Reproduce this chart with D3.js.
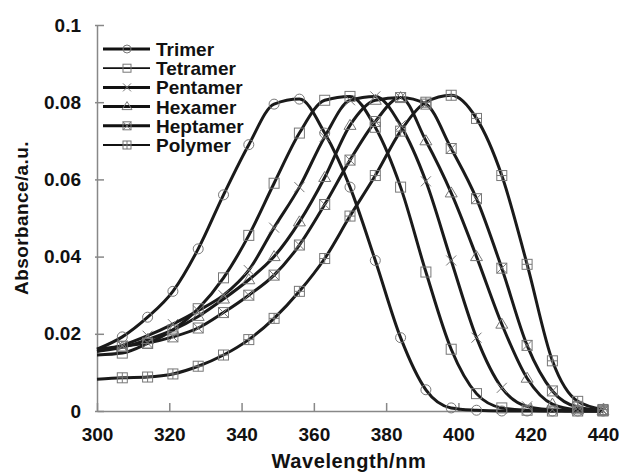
<!DOCTYPE html>
<html>
<head>
<meta charset="utf-8">
<script src="https://cdn.jsdelivr.net/npm/d3@7"></script>
<style>
  body { margin: 0; background: #fff; }
  text { font-family: "Liberation Sans", Arial, sans-serif; font-weight: bold; fill: #111; }
</style>
</head>
<body>
<div id="chart"></div>
<script>
// wavelength grid (nm)
var wavelength = [300, 307, 314, 321, 328, 335, 342, 349, 356, 363, 370, 377, 384, 391, 398, 405, 412, 419, 426, 433, 440];

var trimer   = [0.0160, 0.0192, 0.0243, 0.0310, 0.0420, 0.0560, 0.0690, 0.0795, 0.0808, 0.0720, 0.0580, 0.0390, 0.0190, 0.0055, 0.0008, 0.0002, 0, 0, 0, 0, 0];
var tetramer = [0.0145, 0.0150, 0.0175, 0.0210, 0.0265, 0.0345, 0.0455, 0.0590, 0.0720, 0.0805, 0.0815, 0.0735, 0.0580, 0.0360, 0.0160, 0.0045, 0.0008, 0.0002, 0, 0, 0];
var pentamer = [0.0155, 0.0170, 0.0195, 0.0225, 0.0260, 0.0300, 0.0365, 0.0475, 0.0580, 0.0710, 0.0805, 0.0815, 0.0740, 0.0595, 0.0390, 0.0190, 0.0060, 0.0012, 0.0003, 0, 0];
var hexamer  = [0.0155, 0.0165, 0.0185, 0.0210, 0.0245, 0.0290, 0.0340, 0.0400, 0.0490, 0.0605, 0.0740, 0.0805, 0.0812, 0.0700, 0.0565, 0.0400, 0.0225, 0.0085, 0.0018, 0.0003, 0];
var heptamer = [0.0160, 0.0168, 0.0176, 0.0192, 0.0215, 0.0255, 0.0300, 0.0352, 0.0430, 0.0535, 0.0650, 0.0750, 0.0812, 0.0795, 0.0680, 0.0550, 0.0370, 0.0170, 0.0052, 0.0010, 0.0002];
var polymer  = [0.0082, 0.0086, 0.0088, 0.0096, 0.0116, 0.0145, 0.0185, 0.0240, 0.0310, 0.0395, 0.0505, 0.0610, 0.0725, 0.0800, 0.0818, 0.0758, 0.0610, 0.0380, 0.0130, 0.0025, 0.0004];

var seriesNames = ["Trimer", "Tetramer", "Pentamer", "Hexamer", "Heptamer", "Polymer"];
var seriesValues = [trimer, tetramer, pentamer, hexamer, heptamer, polymer];
var seriesMarkers = ["circle", "square", "cross", "triangle", "squareX", "squarePlus"];

var xTicks = [300, 320, 340, 360, 380, 400, 420, 440];
var yTicks = [0, 0.02, 0.04, 0.06, 0.08, 0.1];

var width = 623, height = 472;
var margin = {top: 25, right: 20, bottom: 61, left: 97};

var svg = d3.select("#chart").append("svg")
    .attr("width", width)
    .attr("height", height);

var x = d3.scaleLinear().domain([300, 440]).range([margin.left, width - margin.right]);
var y = d3.scaleLinear().domain([0, 0.1]).range([height - margin.bottom, margin.top]);

// axes
var xAxis = svg.append("g")
    .attr("transform", "translate(0," + y(0) + ")")
    .call(d3.axisBottom(x).tickValues(xTicks).tickSizeInner(-8).tickSizeOuter(0).tickFormat(d3.format("d")));
var yAxis = svg.append("g")
    .attr("transform", "translate(" + x(300) + ",0)")
    .call(d3.axisLeft(y).tickValues(yTicks).tickSizeInner(-7).tickSizeOuter(0)
      .tickFormat(function(d) { return d === 0 ? "0" : String(+d.toFixed(2)); }));

[xAxis, yAxis].forEach(function(a) {
  a.select(".domain").attr("stroke", "#888").attr("stroke-width", 1.5);
  a.selectAll(".tick line").attr("stroke", "#888").attr("stroke-width", 1.5);
  a.selectAll(".tick text").style("font-size", "19px").attr("fill", "#111");
});
xAxis.selectAll(".tick text").attr("y", 17);
yAxis.selectAll(".tick text").attr("x", -16);
// y ticks start a bit to the left of axis
yAxis.selectAll(".tick line").attr("x1", -2);

svg.append("text")
    .attr("x", 349).attr("y", 468)
    .attr("text-anchor", "middle")
    .style("font-size", "20px")
    .style("letter-spacing", "0.6px")
    .text("Wavelength/nm");

svg.append("text")
    .attr("transform", "translate(28,218) rotate(-90)")
    .attr("text-anchor", "middle")
    .style("font-size", "19px")
    .style("letter-spacing", "0.4px")
    .text("Absorbance/a.u.");

// marker drawing
function drawMarker(g, type, s) {
  var h = s / 2;
  var st = {stroke: "#777", "stroke-width": 1, fill: "none"};
  function apply(sel) { for (var k in st) sel.attr(k, st[k]); return sel; }
  if (type === "circle") {
    apply(g.append("circle").attr("r", h));
  } else if (type === "square" || type === "squareX" || type === "squarePlus") {
    apply(g.append("rect").attr("x", -h).attr("y", -h).attr("width", s).attr("height", s));
    if (type === "squareX") {
      apply(g.append("path").attr("d", "M" + -h + "," + -h + "L" + h + "," + h + "M" + h + "," + -h + "L" + -h + "," + h));
    }
    if (type === "squarePlus") {
      apply(g.append("path").attr("d", "M0," + -h + "V" + h + "M" + -h + ",0H" + h));
    }
  } else if (type === "cross") {
    apply(g.append("path").attr("d", "M" + -h + "," + -h + "L" + h + "," + h + "M" + h + "," + -h + "L" + -h + "," + h));
  } else if (type === "triangle") {
    apply(g.append("path").attr("d", "M0," + (-h - 1) + "L" + (h + 1) + "," + (h - 1) + "L" + (-h - 1) + "," + (h - 1) + "Z"));
  }
}

var line = d3.line()
    .x(function(d) { return x(d[0]); })
    .y(function(d) { return y(d[1]); })
    .curve(d3.curveMonotoneX);

seriesValues.forEach(function(vals, i) {
  var pts = wavelength.map(function(w, j) { return [w, vals[j]]; });
  svg.append("path")
    .datum(pts)
    .attr("fill", "none")
    .attr("stroke", "#1a1a1a")
    .attr("stroke-width", 3)
    .attr("stroke-linejoin", "round")
    .attr("d", line);
});

seriesValues.forEach(function(vals, i) {
  wavelength.forEach(function(w, j) {
    if (j === 0) return;
    var g = svg.append("g").attr("transform", "translate(" + x(w) + "," + y(vals[j]) + ")");
    drawMarker(g, seriesMarkers[i], 10);
  });
});

// legend
var legend = svg.append("g").attr("transform", "translate(103,49)");
var legendWidths = [3, 1.8, 3, 3, 3, 1.8];
seriesNames.forEach(function(name, i) {
  var row = legend.append("g").attr("transform", "translate(0," + (i * 19.2) + ")");
  row.append("line")
    .attr("x1", 0).attr("x2", 47)
    .attr("stroke", "#111")
    .attr("stroke-width", legendWidths[i]);
  var m = row.append("g").attr("transform", "translate(24,0)");
  drawMarker(m, seriesMarkers[i], 8);
  row.append("text")
    .attr("x", 53).attr("y", 7)
    .style("font-size", "19px")
    .text(name);
});
</script>
</body>
</html>
